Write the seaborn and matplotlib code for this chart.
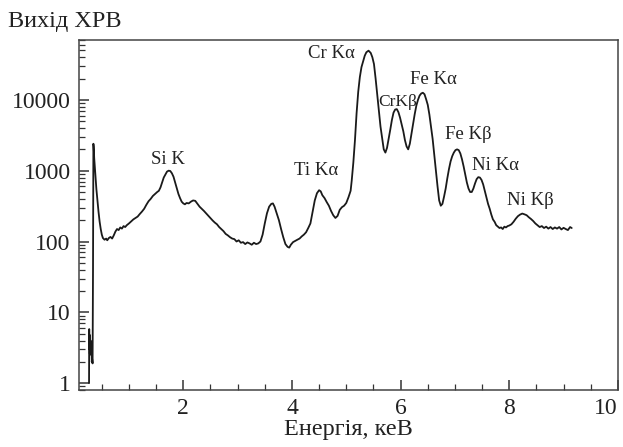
import numpy as np
import pandas as pd
import matplotlib
matplotlib.use("Agg")
import matplotlib.pyplot as plt
import matplotlib.ticker as mticker
import seaborn as sns

# XRF spectrum (energy in keV, yield in counts)
energy = [
    0.265, 0.268, 0.272, 0.276, 0.280, 0.284, 0.288, 0.292, 0.296, 0.300,
    0.305, 0.310, 0.315, 0.322, 0.330, 0.338, 0.345, 0.350,
    0.36, 0.38, 0.40, 0.42, 0.44, 0.46, 0.48, 0.50, 0.52, 0.55, 0.58, 0.60,
    0.63, 0.66, 0.69, 0.72, 0.75, 0.78, 0.81, 0.84, 0.87, 0.90, 0.93, 0.96,
    1.00, 1.04, 1.08, 1.12, 1.16, 1.20, 1.24, 1.28, 1.32, 1.36, 1.40, 1.44,
    1.48, 1.52, 1.55, 1.58, 1.61, 1.64, 1.67, 1.70, 1.73, 1.76, 1.79, 1.82,
    1.85, 1.88, 1.91, 1.94, 1.97, 2.00, 2.03, 2.06, 2.10, 2.14, 2.18, 2.22,
    2.26, 2.30, 2.34, 2.38, 2.42, 2.46, 2.50, 2.54, 2.58, 2.62, 2.66, 2.70,
    2.74, 2.78, 2.82, 2.86, 2.90, 2.94, 2.98, 3.02, 3.06, 3.10, 3.14, 3.18,
    3.22, 3.26, 3.30, 3.34, 3.38, 3.42, 3.46, 3.50, 3.54, 3.58, 3.62, 3.65,
    3.68, 3.72, 3.76, 3.80, 3.84, 3.88, 3.92, 3.95, 3.98, 4.02, 4.06, 4.10,
    4.14, 4.18, 4.22, 4.26, 4.30, 4.34, 4.38, 4.42, 4.46, 4.50, 4.53, 4.56,
    4.60, 4.64, 4.68, 4.72, 4.76, 4.80, 4.84, 4.88, 4.92, 4.96, 5.00, 5.04,
    5.08, 5.10, 5.13, 5.16, 5.19, 5.22, 5.25, 5.28, 5.31, 5.34, 5.37, 5.41,
    5.45, 5.48, 5.51, 5.54, 5.57, 5.60, 5.63, 5.66, 5.69, 5.72, 5.75, 5.78,
    5.81, 5.84, 5.87, 5.90, 5.93, 5.96, 5.99, 6.02, 6.05, 6.08, 6.11, 6.14,
    6.17, 6.20, 6.23, 6.26, 6.29, 6.32, 6.35, 6.38, 6.41, 6.44, 6.47, 6.50,
    6.53, 6.56, 6.59, 6.62, 6.65, 6.68, 6.71, 6.74, 6.77, 6.80, 6.83, 6.86,
    6.89, 6.92, 6.95, 6.98, 7.01, 7.04, 7.07, 7.10, 7.13, 7.16, 7.19, 7.22,
    7.25, 7.28, 7.31, 7.34, 7.37, 7.40, 7.43, 7.46, 7.49, 7.52, 7.55, 7.58,
    7.61, 7.64, 7.67, 7.70, 7.73, 7.76, 7.79, 7.82, 7.85, 7.88, 7.91, 7.94,
    7.97, 8.00, 8.04, 8.08, 8.12, 8.16, 8.20, 8.24, 8.28, 8.32, 8.36, 8.40,
    8.44, 8.48, 8.52, 8.56, 8.60, 8.64, 8.68, 8.72, 8.76, 8.80, 8.84, 8.88,
    8.92, 8.96, 9.00, 9.04, 9.08, 9.12, 9.15,
]
counts = [
    1.0, 5.8, 3.0, 4.8, 2.6, 4.2, 3.0, 4.0, 2.8, 3.4,
    2.5, 3.2, 2.0, 2.2, 1.9, 40, 2400, 2200,
    1500, 900, 550, 380, 260, 190, 150, 125, 112, 106, 110, 104,
    112, 116, 110, 122, 138, 150, 145, 158, 152, 165, 160, 170,
    180, 192, 205, 215, 225, 245, 265, 290, 330, 370, 400, 440,
    470, 500, 520, 580, 680, 800, 880, 970, 1000, 990, 920, 820,
    680, 560, 470, 410, 365, 345, 335, 350, 345, 365, 380, 375,
    340, 310, 290, 270, 250, 232, 215, 198, 185, 175, 160, 150,
    140, 128, 122, 115, 110, 108, 100, 104, 96, 98, 92, 97,
    94, 90, 96, 92, 94, 100, 125, 180, 250, 310, 340, 345,
    310, 250, 200, 150, 115, 92, 84, 82, 90, 98, 102, 106,
    110, 118, 125, 135, 155, 180, 260, 380, 480, 530, 510, 450,
    410, 360, 320, 270, 235, 215, 230, 280, 305, 320, 350, 420,
    520, 720, 1300, 2700, 6500, 13000, 21000, 29000, 35000, 42000, 47000, 49500,
    46000, 40000, 32000, 20000, 12000, 7000, 4200, 2900, 2000, 1800, 2100, 2800,
    3800, 5200, 6600, 7300, 7400, 6700, 5600, 4500, 3600, 2700, 2200, 2000,
    2400, 3300, 4500, 6300, 8300, 10000, 11500, 12300, 12600, 12000, 10200, 8500,
    6200, 4200, 2800, 1700, 1000, 600, 380, 320, 340, 430, 560, 780,
    1050, 1350, 1600, 1800, 1950, 2000, 1950, 1750, 1450, 1150, 880, 680,
    560, 500, 500, 560, 660, 760, 810, 800, 740, 640, 520, 420,
    340, 290, 240, 205, 190, 170, 162, 155, 158, 150, 162, 158,
    165, 168, 175, 190, 210, 228, 240, 248, 242, 235, 220, 208,
    195, 180, 170, 160, 165, 155, 162, 152, 160, 150, 158, 152,
    160, 148, 156, 150, 145, 160, 155,
]

# peak labels: text, energy, counts
peak_labels = ["Si K", "Ti Kα", "Cr Kα", "CrKβ", "Fe Kα", "Fe Kβ", "Ni Kα", "Ni Kβ"]
label_x = [1.71, 4.45, 4.73, 5.94, 6.60, 7.24, 7.75, 8.38]
label_y = [1430, 1000, 44500, 9400, 19200, 3200, 1180, 380]

y_ticks = [1, 10, 100, 1000, 10000]
x_ticks = [2, 4, 6, 8, 10]

sns.set_theme(style="ticks")
plt.rcParams.update({
    'font.family': ['Liberation Serif', 'DejaVu Serif'],
    'mathtext.fontset': 'stix',
})

df = pd.DataFrame({'energy': energy, 'counts': counts})

fig = plt.figure(figsize=(6.23, 4.47), dpi=100)
ax = fig.add_axes([0.1268, 0.1275, 0.8650, 0.783])

sns.lineplot(data=df, x='energy', y='counts', color='#1a1a1a', linewidth=1.3,
             estimator=None, sort=False, ax=ax)

ax.set_yscale('log')
ax.set_xlim(0.08, 10)
ax.set_ylim(0.8, 70000)

ax.yaxis.set_major_locator(mticker.FixedLocator(y_ticks))
ax.yaxis.set_major_formatter(mticker.FixedFormatter([str(t) for t in y_ticks]))
ax.yaxis.set_minor_locator(mticker.LogLocator(base=10, subs=np.arange(2, 10)))
ax.yaxis.set_minor_formatter(mticker.NullFormatter())
ax.xaxis.set_major_locator(mticker.FixedLocator(x_ticks))
ax.xaxis.set_major_formatter(mticker.FixedFormatter([str(t) for t in x_ticks]))
ax.xaxis.set_minor_locator(mticker.MultipleLocator(0.5))

ax.tick_params(which='both', direction='in', top=False, right=False,
               colors='#333333', labelcolor='#222222', labelsize=17)
ax.tick_params(which='major', length=7, width=1.1, pad=6)
ax.tick_params(which='minor', length=4, width=0.9)
for s in ax.spines.values():
    s.set_visible(True)
    s.set_color('#444444')
    s.set_linewidth(1.1)

# keep the last x label inside the figure
fig.canvas.draw()
ax.get_xticklabels()[-1].set_horizontalalignment('right')

ax.set_xlabel("Енергія, кеВ", fontsize=17.5, color='#222222', labelpad=0)
ax.set_ylabel("")
fig.text(0.013, 1 - 22 / 447, "Вихід ХРВ", fontsize=17.5, color='#222222',
         ha='left', va='center')

for txt, lx, ly in zip(peak_labels, label_x, label_y):
    fs = 12.5 if txt == "CrKβ" else 13.5
    ax.text(lx, ly, txt, fontsize=fs, color='#222222', ha='center', va='center')

fig.savefig("out.png", dpi=100)
